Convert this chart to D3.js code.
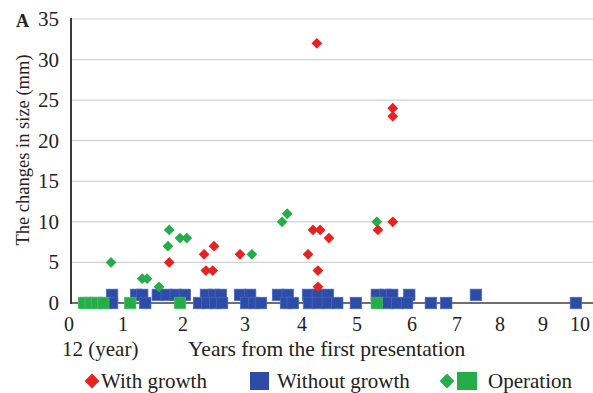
<!DOCTYPE html>
<html><head><meta charset="utf-8">
<script src="https://cdn.jsdelivr.net/npm/d3@7"></script>
<style>
html,body{margin:0;padding:0;background:#fff;}
svg{display:block;}
text{font-family:"Liberation Serif","Times New Roman",serif;fill:#222;}
</style></head>
<body>
<svg id="c" width="593" height="393"></svg>
<script>
// x tick labels (years) and y tick values
const xTicks = [0,1,2,3,4,5,6,7,8,9,10];
const yTicks = [0,5,10,15,20,25,30,35];

// With growth (red diamonds): [years, change mm]
const withGrowth = [
  [1.77,5],[2.34,6],[2.37,4],[2.48,4],[2.5,7],[2.92,6],
  [4.11,6],[4.2,9],[4.33,9],[4.49,8],[4.29,4],[4.29,2],[4.27,32],
  [5.38,9],[5.65,10],[5.65,24],[5.65,23]
];
// Without growth (blue squares)
const withoutGrowth = [
  [0.79,1],[1.22,1],[1.32,1],[1.58,1],[1.73,1],[1.88,1],[2.03,1],
  [2.37,1],[2.5,1],[2.61,1],[2.92,1],[3.09,1],[3.58,1],[3.75,1],
  [4.11,1],[4.29,1],[4.47,1],[5.36,1],[5.51,1],[5.64,1],[5.95,1],[7.44,1],
  [0.29,0],[0.48,0],[0.67,0],[0.79,0],[1.37,0],[2.26,0],[2.39,0],[2.52,0],[2.63,0],
  [3.02,0],[3.16,0],[3.28,0],[3.72,0],[3.84,0],[4.13,0],[4.29,0],[4.47,0],[4.64,0],
  [4.98,0],[5.38,0],[5.55,0],[5.73,0],[5.91,0],[6.42,0],[6.76,0],[9.89,0]
];
// Operation: green diamonds (with growth) and green squares (without growth)
const operationDiamonds = [
  [0.77,5],[1.32,3],[1.4,3],[1.6,2],[1.77,9],[1.75,7],[1.95,8],[2.06,8],
  [3.12,6],[3.65,10],[3.74,11],[5.36,10]
];
const operationSquares = [
  [0.25,0],[0.38,0],[0.5,0],[0.62,0],[1.12,0],[1.95,0],[5.36,0]
];
const legendItems = ["With growth","Without growth","Operation"];

const svg = d3.select("#c");
const red = "#e8231f", blue = "#2c4ca6", green = "#25ad48";

// x axis labels are unevenly placed in the original figure: piecewise scale
const x = d3.scaleLinear()
  .domain(xTicks)
  .range([71,123,183,245,302,357,412,457,500,543,580]);
const y = d3.scaleLinear().domain([0,35]).range([303,19]);

// grid
svg.append("g").selectAll("line").data(yTicks.filter(d=>d>0)).join("line")
  .attr("x1",72).attr("x2",593)
  .attr("y1",d=>y(d)).attr("y2",d=>y(d))
  .attr("stroke","#cfd3d6").attr("stroke-width",1.2);

// axes lines
svg.append("line").attr("x1",71).attr("x2",593).attr("y1",y(0)).attr("y2",y(0))
  .attr("stroke","#4a3c34").attr("stroke-width",1.6);
svg.append("line").attr("x1",71).attr("x2",71).attr("y1",y(35)-1).attr("y2",y(0)+1)
  .attr("stroke","#3a3a3a").attr("stroke-width",2);

// y tick labels
svg.append("g").selectAll("text").data(yTicks).join("text")
  .attr("x",59).attr("y",d=>y(d)+7).attr("text-anchor","end")
  .attr("font-size",21).text(d=>d);

// x tick labels
svg.append("g").selectAll("text").data(xTicks).join("text")
  .attr("x",d=>d===0?69:x(d)).attr("y",331).attr("text-anchor","middle")
  .attr("font-size",20).text(d=>d);

svg.append("text").attr("x",62).attr("y",356).attr("font-size",21).text("12  (year)");
svg.append("text").attr("x",188).attr("y",356).attr("font-size",21.5).text("Years from the first presentation");

// y title
svg.append("text").attr("transform","translate(29,150) rotate(-90)")
  .attr("text-anchor","middle").attr("font-size",18.5).text("The changes in size (mm)");
// panel letter
svg.append("text").attr("x",16).attr("y",27).attr("font-family","Liberation Sans, Arial, sans-serif")
  .attr("font-weight","bold").attr("font-size",18).text("A");

const diamond = d3.symbol().type(d3.symbolSquare).size(58);
const sq = 11.5;

// blue squares
svg.append("g").selectAll("rect").data(withoutGrowth).join("rect")
  .attr("x",d=>x(d[0])-sq/2).attr("y",d=>y(d[1])-sq/2)
  .attr("width",sq).attr("height",sq)
  .attr("fill",blue).attr("stroke","#4a68c4").attr("stroke-width",0.7);

// green squares
svg.append("g").selectAll("rect").data(operationSquares).join("rect")
  .attr("x",d=>x(d[0])-sq/2).attr("y",d=>y(d[1])-sq/2)
  .attr("width",sq).attr("height",sq)
  .attr("fill",green).attr("stroke","#45c464").attr("stroke-width",0.7);

// green diamonds
svg.append("g").selectAll("path").data(operationDiamonds).join("path")
  .attr("d",diamond)
  .attr("transform",d=>`translate(${x(d[0])},${y(d[1])}) rotate(45)`)
  .attr("fill",green);

// red diamonds
svg.append("g").selectAll("path").data(withGrowth).join("path")
  .attr("d",diamond)
  .attr("transform",d=>`translate(${x(d[0])},${y(d[1])}) rotate(45)`)
  .attr("fill",red);

// legend
const lg = svg.append("g");
const bigDiamond = d3.symbol().type(d3.symbolSquare).size(110);
lg.append("path").attr("d",bigDiamond).attr("transform","translate(92,381) rotate(45)").attr("fill",red);
lg.append("text").attr("x",101).attr("y",388).attr("font-size",21).text(legendItems[0]);
lg.append("rect").attr("x",250).attr("y",372).attr("width",19).attr("height",18).attr("fill",blue);
lg.append("text").attr("x",277).attr("y",388).attr("font-size",21).text(legendItems[1]);
lg.append("path").attr("d",bigDiamond).attr("transform","translate(447,381) rotate(45)").attr("fill",green);
lg.append("rect").attr("x",457).attr("y",372).attr("width",20).attr("height",18).attr("fill",green);
lg.append("text").attr("x",488).attr("y",388).attr("font-size",21).text(legendItems[2]);
</script>
</body></html>
